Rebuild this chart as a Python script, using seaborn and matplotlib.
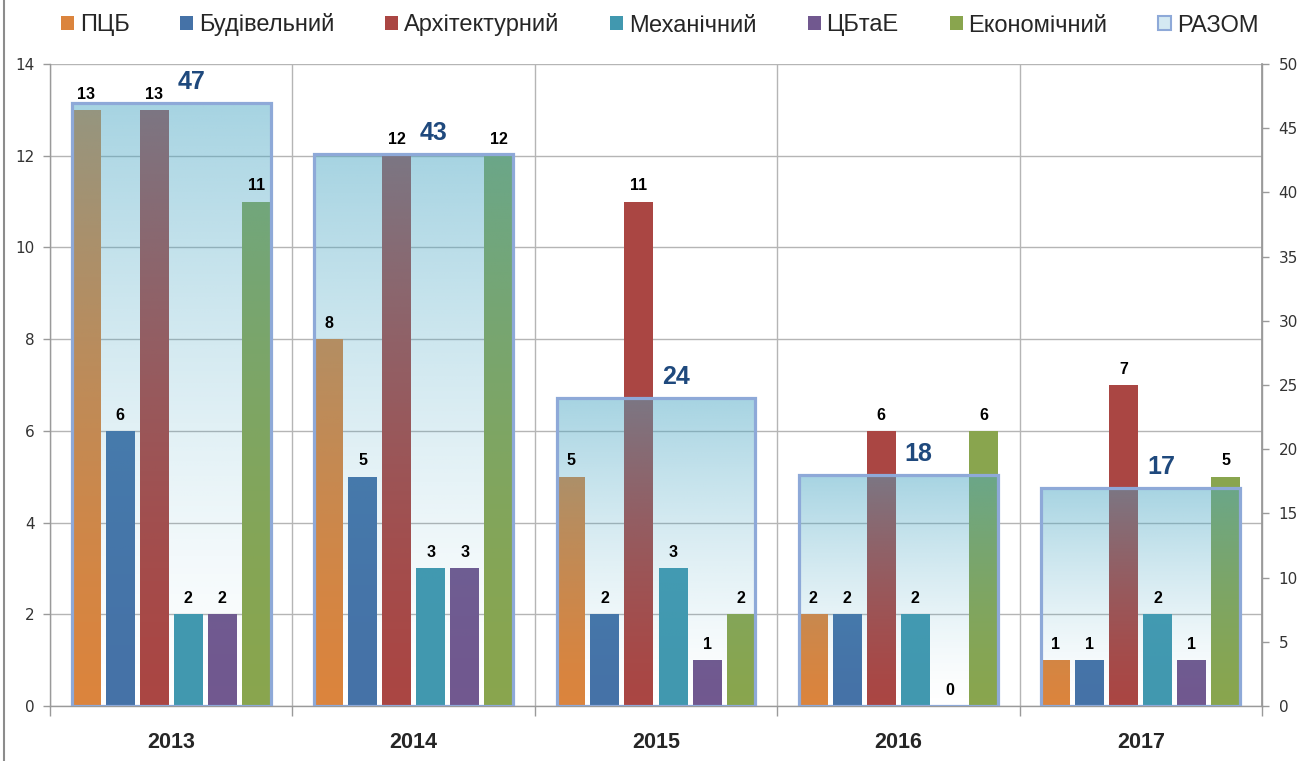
import numpy as np
import pandas as pd
import matplotlib
matplotlib.use("Agg")
import matplotlib.pyplot as plt
import seaborn as sns
from matplotlib.patches import Patch
from matplotlib.lines import Line2D

# ---- data ----
years = ["2013", "2014", "2015", "2016", "2017"]
faculties = ["ПЦБ", "Будівельний", "Архітектурний", "Механічний", "ЦБтаЕ", "Економічний"]
pcb = [13, 8, 5, 2, 1]
budivelnyi = [6, 5, 2, 2, 1]
arkhitekturnyi = [13, 12, 11, 6, 7]
mekhanichnyi = [2, 3, 3, 2, 2]
cbtae = [2, 3, 1, 0, 1]
ekonomichnyi = [11, 12, 2, 6, 5]
totals = [47, 43, 24, 18, 17]
total_label = "РАЗОМ"

colors = ["#DB843D", "#4572A7", "#AA4643", "#4198AF", "#71588F", "#89A54E"]

series = [pcb, budivelnyi, arkhitekturnyi, mekhanichnyi, cbtae, ekonomichnyi]
rows = []
for fac, vals in zip(faculties, series):
    for y, v in zip(years, vals):
        rows.append({"Рік": y, "Факультет": fac, "Кількість": v})
df = pd.DataFrame(rows)
tot_df = pd.DataFrame({"Рік": years, "Разом": totals})

sns.set_theme(style="white")
plt.rcParams["font.family"] = ["Liberation Sans", "DejaVu Sans"]

fig = plt.figure(figsize=(13.05, 7.61), dpi=100)
ax = fig.add_axes([50 / 1305, 1 - 706 / 761, 1212 / 1305, 642 / 761])

sns.barplot(data=df, x="Рік", y="Кількість", hue="Факультет", order=years,
            hue_order=faculties, palette=colors, width=0.843, gap=0.15,
            saturation=1, linewidth=0, errorbar=None, legend=False, ax=ax)

ax.set_ylim(0, 14)
ax.set_xlim(-0.5, 4.5)
ax.set_yticks(range(0, 15, 2))
ax.set_xlabel("")
ax.set_ylabel("")
ax.set_axisbelow(True)
ax.yaxis.grid(True, color="#b5b5b5", lw=1)
ax.set_xticks([-0.5, 0.5, 1.5, 2.5, 3.5, 4.5], minor=True)
ax.xaxis.grid(True, which="minor", color="#b5b5b5", lw=1)
ax.xaxis.grid(False, which="major")
ax.tick_params(axis="x", which="major", length=0, pad=19, labelsize=15.5)
ax.tick_params(axis="x", which="minor", length=7, width=1, color="#9a9a9a", direction="out", bottom=True)
ax.tick_params(axis="y", which="major", length=5, width=1, color="#9a9a9a", direction="out",
               left=True, pad=6, labelsize=11, labelcolor="#333333")
for lab in ax.get_xticklabels():
    lab.set_fontweight("bold")
for lab in ax.get_yticklabels():
    lab.set_family("DejaVu Sans")
for s in ["left", "bottom", "right"]:
    ax.spines[s].set_color("#9a9a9a")
    ax.spines[s].set_linewidth(1)
ax.spines["top"].set_visible(False)

# ---- totals on secondary axis ----
ax2 = ax.twinx()
sns.barplot(data=tot_df, x="Рік", y="Разом", order=years, width=0.82,
            color="#8EA9D8", saturation=1, errorbar=None, ax=ax2)
top_rgb = np.array([77, 168, 197]) / 255.0
for p in list(ax2.patches):
    p.set_facecolor("none")
    p.set_edgecolor("#8EA9D8")
    p.set_linewidth(2.3)
    p.set_zorder(3)
    x0, w, h = p.get_x(), p.get_width(), p.get_height()
    n = 256
    t = np.linspace(0, 1, n)
    grad = np.zeros((n, 1, 4))
    grad[:, 0, :3] = top_rgb
    grad[:, 0, 3] = 0.5 * t ** 1.4
    im = ax2.imshow(grad, extent=[x0, x0 + w, 0, h], origin="lower",
                    aspect="auto", zorder=2, interpolation="bilinear")
    im.set_clip_path(p)
ax2.set_ylim(0, 50)
ax2.set_xlim(-0.5, 4.5)
ax2.set_yticks(range(0, 51, 5))
ax2.set_ylabel("")
ax2.tick_params(axis="y", length=5, width=1, color="#9a9a9a", direction="out",
                right=True, pad=7, labelsize=11, labelcolor="#333333")
for lab in ax2.get_yticklabels():
    lab.set_family("DejaVu Sans")
for s in ["left", "bottom", "top"]:
    ax2.spines[s].set_visible(False)
ax2.spines["right"].set_color("#9a9a9a")
ax2.grid(False)

# value labels of the grouped bars, drawn on top of the overlay
for cont in ax.containers:
    for bar in cont:
        val = bar.get_height()
        ax2.annotate(f"{int(round(val))}", xy=(bar.get_x() + bar.get_width() / 2, val),
                     xycoords=ax.transData, xytext=(0, 6), textcoords="offset points",
                     ha="center", va="bottom", fontsize=11.5, fontweight="bold",
                     color="black", zorder=6)

for i, t_ in enumerate(totals):
    ax2.annotate(str(t_), xy=(i, t_), xytext=(14.5, 10), textcoords="offset points",
                 ha="center", va="baseline", fontsize=18, fontweight="bold",
                 color="#1F497D", zorder=6)

# ---- legend ----
handles = [Patch(facecolor=c, edgecolor="none") for c in colors]
handles.append(Patch(facecolor="#d4e9f2", edgecolor="#8EA9D8", lw=1.5))
labels = faculties + [total_label]
fig.legend(handles, labels, loc="center left", bbox_to_anchor=(61 / 1305, 1 - 25 / 761),
           ncol=7, frameon=False, fontsize=17, handlelength=0.55, handleheight=0.55,
           handletextpad=0.25, columnspacing=2.15, borderpad=0, borderaxespad=0)

fig.add_artist(Line2D([4 / 1305, 4 / 1305], [0, 1], color="#8c8c8c", lw=1.5,
                      transform=fig.transFigure))

fig.savefig("out.png", dpi=100)
